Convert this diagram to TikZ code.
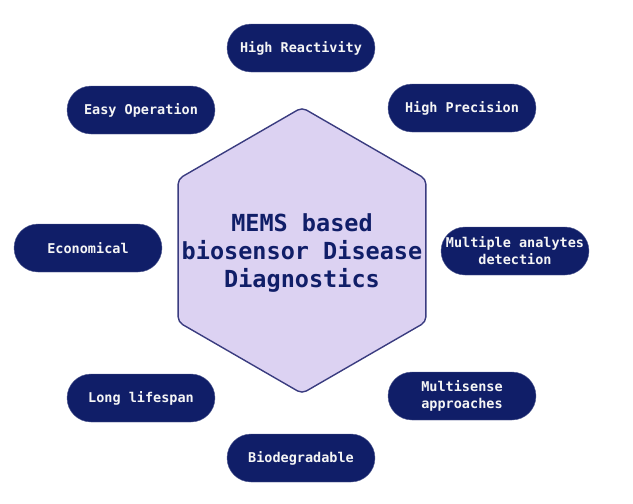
\documentclass[tikz,border=0pt]{standalone}
\usepackage{fontspec}
\setmonofont{DejaVu Sans Mono}
\usetikzlibrary{shapes.geometric,positioning}
\definecolor{navy}{RGB}{16,30,104}
\definecolor{lavender}{RGB}{220,210,242}
\definecolor{hexline}{RGB}{58,60,128}

\begin{document}
\begin{tikzpicture}[
    x=1pt, y=-1pt,
    pill/.style={rectangle, rounded corners=24pt, fill=navy, draw=navy!70, minimum width=148pt, minimum height=48pt, inner sep=2pt, align=center, text=white!92!gray, font=\ttfamily\bfseries\fontsize{13.5}{17}\selectfont},
    hexa/.style={regular polygon, regular polygon sides=6, shape border rotate=30, minimum size=286pt, fill=lavender, draw=hexline, line width=1.4pt, rounded corners=5pt, inner sep=0pt},
    hubtext/.style={align=center, text=navy, font=\ttfamily\bfseries\fontsize{23.5}{28}\selectfont}
]

\path[use as bounding box] (0,0) rectangle (633,504);

% === Central hexagon ===
\node[hexa] (hub) at (302,250.5) {};
\node[hubtext] (hub-label) at (302,253) {MEMS based\\biosensor Disease\\Diagnostics};

% === Properties around the hub ===
\node[pill] (reactivity) at (301,48) {High Reactivity};
\node[pill] (operation) at (141,110) {Easy Operation};
\node[pill] (precision) at (462,108) {High Precision};
\node[pill] (economical) at (88,248) {Economical};
\node[pill] (analytes) at (515,251) {Multiple analytes\\detection};
\node[pill] (lifespan) at (141,398) {Long lifespan};
\node[pill] (multisense) at (462,396) {Multisense\\approaches};
\node[pill] (biodegradable) at (301,458) {Biodegradable};

\end{tikzpicture}
\end{document}
